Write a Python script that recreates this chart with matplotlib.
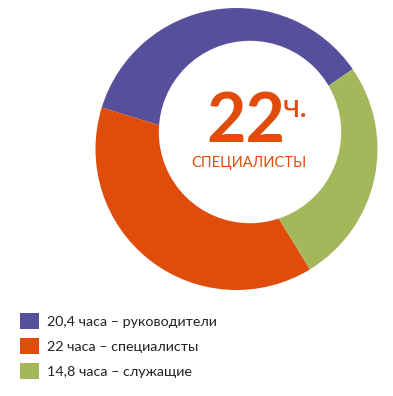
import matplotlib

matplotlib.use("Agg")
import matplotlib.pyplot as plt
from matplotlib.patches import Circle

# data
labels = ["20,4 часа – руководители", "22 часа – специалисты", "14,8 часа – служащие"]
hours = [20.4, 22, 14.8]
colors = ["#574f9b", "#e04c0c", "#a5b75b"]
center_value = "22"
center_unit = "ч."
center_caption = "СПЕЦИАЛИСТЫ"

W, H = 393, 396
plt.rcParams["font.family"] = ["Lato", "DejaVu Sans"]

fig = plt.figure(figsize=(W / 100, H / 100), dpi=100)
ax = fig.add_axes([0, 0, 1, 1])

wedges, _ = ax.pie(
    hours,
    colors=colors,
    startangle=34.5,
    counterclock=True,
    center=(236.5, H - 149),
    radius=141,
    wedgeprops=dict(linewidth=0),
)
# hole is slightly off-centre in the original
ax.add_patch(Circle((250, H - 132), 90.5, color="white", zorder=3))

ax.set_xlim(0, W)
ax.set_ylim(0, H)
ax.set_aspect("equal")
ax.axis("off")

orange = colors[1]
ax.text(246, H - 141.5, center_value, color=orange, fontsize=49, fontweight="bold",
        ha="center", va="baseline", zorder=4)
ax.text(283, H - 117, center_unit, color=orange, fontsize=24,
        ha="left", va="baseline", zorder=4)
ax.text(249, H - 167, center_caption, color=orange, fontsize=10.5,
        ha="center", va="baseline", zorder=4)

fig.legend(
    wedges, labels,
    loc="upper left", bbox_to_anchor=(20 / W, 1 - 313 / H),
    frameon=False, fontsize=10.3, borderpad=0, borderaxespad=0,
    handlelength=1.3, handleheight=1.35, handletextpad=0.62, labelspacing=0.62,
    labelcolor="#222222",
)

fig.savefig("out.png", dpi=100)
